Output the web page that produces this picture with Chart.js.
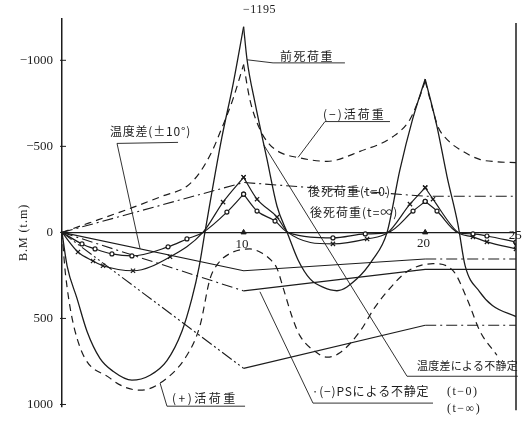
<!DOCTYPE html>
<html>
<head>
<meta charset="utf-8">
<script src="https://cdn.jsdelivr.net/npm/chart.js@4.4.0/dist/chart.umd.min.js"></script>
<style>
  html, body { margin: 0; padding: 0; background: #fff; }
  #wrap { width: 523px; height: 423px; }
</style>
</head>
<body>
<div id="wrap"><canvas id="bm"></canvas></div>
<script>
// --- values (x = section no., y = B.M in t.m, + is downward) ---
const spanCuts = [10, 20];

const preDeadX = [0, 0.28, 0.83, 1.38, 2.09, 2.81, 3.85, 4.85, 5.78, 6.6, 7.15, 7.55, 7.87, 8.8, 9.4, 10,
                  10.19, 10.63, 11.29, 11.84, 12.4, 13.0, 13.66, 14.4, 15.14, 16.24, 17.1, 17.9, 18.6, 19.3, 20,
                  20.65, 21.2, 21.8, 22.2, 23.0, 23.7, 25];
const preDeadY = [0, 194, 385, 576, 732, 807, 859, 830, 745, 576, 385, 200, 0, -550, -850, -1195,
                  -1003, -752, -424, -152, 0, 160, 270, 320, 339, 270, 160, 0, -360, -655, -891,
                  -615, -326, -48, 195, 345, 425, 489];

const negLiveX = [0, 1.5, 3.9, 5.5, 6.9, 7.6, 8.3, 8.7, 9.4, 10,
                  10.35, 10.9, 11.4, 12.0, 12.94, 14.59, 16.41, 18.23, 19.16, 19.6, 20,
                  20.4, 20.7, 21.3, 21.9, 23.0, 24.0, 25];
const negLiveY = [0, -55, -145, -210, -270, -350, -480, -580, -770, -975,
                  -770, -598, -515, -465, -436, -413, -471, -557, -656, -760, -880,
                  -720, -615, -530, -482, -424, -410, -405];

const posLiveX = [0, 0.2, 0.83, 2.64, 4.3, 5.4, 6.88, 7.6, 8.15, 8.6, 9.3, 10.35, 11.0, 11.5, 11.85, 12.2,
                  12.7, 13.1, 14.04, 14.6, 15.3, 16.41, 17.2, 17.9, 19.0, 20.43, 21.53, 22.3, 23.02, 23.95];
const posLiveY = [0, 250, 616, 847, 917, 876, 714, 541, 270, 180, 120, 96, 120, 160, 212, 330,
                  500, 600, 700, 725, 700, 575, 440, 344, 228, 182, 222, 385, 575, 714];

// 後死荷重, x marks
const postDeadAX = [0, 0.88, 1.71, 2.26, 3.91, 5.95, 7.76, 8.87, 10,
                    10.74, 11.84, 12.44, 14.92, 16.8, 17.95, 19.16, 20,
                    20.43, 21.8, 22.63, 23.4, 25];
const postDeadAY = [0, 114, 166, 194, 223, 142, 0, -176, -320,
                    -193, -89, 0, 67, 38, 0, -164, -260,
                    -193, 0, 26, 55, 96];
// 後死荷重, circle marks
const postDeadBX = [0, 1.1, 1.82, 2.75, 3.85, 5.84, 6.88, 7.76, 9.08, 10,
                    10.74, 11.73, 12.44, 14.92, 16.7, 17.95, 19.33, 20,
                    20.65, 21.8, 22.63, 23.4, 25];
const postDeadBY = [0, 67, 96, 125, 137, 84, 38, 0, -118, -222,
                    -124, -66, 0, 32, 9, 0, -124, -180,
                    -124, 0, 9, 21, 56];

// piecewise linear secondary moments (kinks at supports)
const supportX = [0, 10, 20, 25];
const tempNegY = [0, -290, -210, -210];
const tempPosY = [0, 223, 155, 155];
const psZeroY = [0, 340, 215, 215];
const psInfY = [0, 790, 540, 540];

const markX = [10, 20, 25];
const markY = [0, 0, 67];

const yTicks = [-1000, -500, 0, 500, 1000];

// --- styles ---
const INK = '#1c1c1c';
const DASH = [7, 5];
const DASHDOT = [11, 4, 2, 4];
const DASHDOT2 = [12, 3, 2, 3, 2, 3];
const SERIF = '"Liberation Serif", "DejaVu Serif", serif';
const JP = '"Noto Sans CJK JP", sans-serif';

function toPoints(xs, ys) {
    return xs.map((x, i) => ({ x: x, y: ys[i] }));
}

function splitSpans(xs, ys, cuts) {
    const pts = toPoints(xs, ys);
    const edges = [0, ...cuts, 25];
    const out = [];
    for (let k = 0; k < edges.length - 1; k++) {
        out.push(pts.filter(p => p.x >= edges[k] && p.x <= edges[k + 1]));
    }
    return out;
}

function spanIndex(x) {
    return x < 10 ? 0 : (x < 20 ? 1 : 2);
}

const datasets = [];

function addCurve(xs, ys, cuts, extra) {
    splitSpans(xs, ys, cuts).forEach(pts => {
        datasets.push(Object.assign({
            data: pts,
            borderColor: INK,
            borderWidth: 1.2,
            pointRadius: 0,
            fill: false,
            cubicInterpolationMode: 'monotone'
        }, extra));
    });
}

function addLine(ys, dashes) {
    datasets.push({
        data: toPoints(supportX, ys),
        borderColor: INK,
        borderWidth: 1.1,
        pointRadius: 0,
        fill: false,
        tension: 0,
        segment: { borderDash: ctx => dashes[spanIndex(ctx.p0.parsed.x)] }
    });
}

addCurve(preDeadX, preDeadY, spanCuts, { borderWidth: 1.3 });
addCurve(negLiveX, negLiveY, spanCuts, { borderDash: DASH });
addCurve(posLiveX, posLiveY, [], { borderDash: DASH });

const markerRadius = r => ctx => (ctx.raw && ctx.raw.y !== 0 ? r : 0);
addCurve(postDeadAX, postDeadAY, spanCuts, {
    pointStyle: 'crossRot', pointRadius: markerRadius(3), pointBorderColor: INK, pointBorderWidth: 1.2
});
addCurve(postDeadBX, postDeadBY, spanCuts, {
    pointStyle: 'circle', pointRadius: markerRadius(2), pointBackgroundColor: '#fff',
    pointBorderColor: INK, pointBorderWidth: 1.2
});

addLine(tempNegY, [DASHDOT, DASHDOT, DASHDOT]);
addLine(tempPosY, [[], [], DASHDOT]);
addLine(psZeroY, [DASHDOT, [], []]);
addLine(psInfY, [DASHDOT2, [], DASHDOT]);

datasets.push({
    data: toPoints(markX, markY),
    showLine: false,
    pointStyle: 'triangle',
    pointRadius: 3,
    pointRotation: [0, 0, 180],
    pointBackgroundColor: INK,
    pointBorderColor: INK
});

// --- annotations: text labels and leader lines, placed in data units ---
const notes = [
    { text: '前死荷重', x: 12.0, y: -1020, font: '12px ' + JP, spacing: 1.5 },
    { text: '(−)活荷重', x: 14.37, y: -685, font: '12px ' + JP, spacing: 2 },
    { text: '温度差(±10°)', x: 2.64, y: -586, font: '12px ' + JP, spacing: 0.8 },
    { text: '後死荷重(t=0)', x: 13.55, y: -239, font: '12px ' + JP, spacing: 1 },
    { text: '後死荷重(t=∞)', x: 13.66, y: -118, font: '12px ' + JP, spacing: 1 },
    { text: '温度差による不静定', x: 19.55, y: 778, font: '11px ' + JP, spacing: 0.2 },
    { text: '·(−)PSによる不静定', x: 13.75, y: 925, font: '12px ' + JP, spacing: 0.8 },
    { text: '(t−0)', x: 21.2, y: 925, font: '12px ' + SERIF, spacing: 1.5 },
    { text: '(t−∞)', x: 21.2, y: 1025, font: '12px ' + SERIF, spacing: 1.5 },
    { text: '(+)活荷重', x: 6.06, y: 964, font: '12px ' + JP, spacing: 2.5 },
    { text: '−1195', x: 9.97, y: -1292, font: '12px ' + SERIF, spacing: 0.5 },
    { text: '10', x: 9.55, y: 70, font: '13px ' + SERIF, spacing: 0 },
    { text: '20', x: 19.55, y: 64, font: '13px ' + SERIF, spacing: 0 },
    { text: '25', x: 24.6, y: 18, font: '13px ' + SERIF, spacing: 0 }
];

const leaders = [
    [[10.19, -1003], [11.62, -985], [15.58, -985]],
    [[13.0, -436], [14.48, -644], [18.06, -644]],
    [[4.3, 96], [3.03, -517], [6.39, -523]],
    [[11.1, -510], [19.0, 836], [25.1, 836]],
    [[10.9, 345], [13.82, 992], [20.43, 992]],
    [[5.4, 876], [5.78, 1010], [10.08, 1010]]
];

const overlay = {
    id: 'overlay',
    afterDraw(chart) {
        const { ctx, chartArea: a, scales: { x, y } } = chart;
        ctx.save();
        ctx.strokeStyle = INK;
        ctx.fillStyle = INK;

        // right frame line at section 25
        ctx.lineWidth = 1.5;
        ctx.beginPath();
        ctx.moveTo(x.getPixelForValue(25), a.top + 4);
        ctx.lineTo(x.getPixelForValue(25), a.bottom + 4);
        ctx.stroke();

        // small inward tick marks on the y axis
        ctx.lineWidth = 1;
        yTicks.forEach(v => {
            const py = y.getPixelForValue(v);
            ctx.beginPath();
            ctx.moveTo(a.left - 2, py);
            ctx.lineTo(a.left + 4, py);
            ctx.stroke();
        });

        // leader lines
        ctx.lineWidth = 0.9;
        leaders.forEach(line => {
            ctx.beginPath();
            line.forEach(([vx, vy], i) => {
                const px = x.getPixelForValue(vx), py = y.getPixelForValue(vy);
                if (i === 0) ctx.moveTo(px, py); else ctx.lineTo(px, py);
            });
            ctx.stroke();
        });

        // labels
        ctx.textBaseline = 'middle';
        ctx.textAlign = 'left';
        notes.forEach(n => {
            ctx.font = n.font;
            ctx.letterSpacing = n.spacing + 'px';
            ctx.fillText(n.text, x.getPixelForValue(n.x), y.getPixelForValue(n.y));
        });

        // y axis title
        ctx.font = '12px ' + SERIF;
        ctx.letterSpacing = '1px';
        ctx.textAlign = 'center';
        ctx.translate(24, y.getPixelForValue(0));
        ctx.rotate(-Math.PI / 2);
        ctx.fillText('B.M (t.m)', 0, 0);
        ctx.restore();
    }
};

new Chart(document.getElementById('bm'), {
    type: 'line',
    data: { datasets: datasets },
    options: {
        responsive: true,
        maintainAspectRatio: false,
        animation: false,
        layout: { padding: { top: 19, right: 7, bottom: 15, left: 0 } },
        plugins: {
            legend: { display: false },
            tooltip: { enabled: false }
        },
        scales: {
            x: {
                type: 'linear',
                min: 0,
                max: 25,
                display: false
            },
            y: {
                type: 'linear',
                reverse: true,
                min: -1240,
                max: 1010,
                afterBuildTicks: scale => { scale.ticks = yTicks.map(v => ({ value: v })); },
                afterFit: scale => { scale.width = 62; },
                border: { display: true, color: INK, width: 1.5 },
                grid: {
                    drawTicks: false,
                    color: ctx => (ctx.tick && ctx.tick.value === 0 ? INK : 'rgba(0,0,0,0)'),
                    lineWidth: 1.2
                },
                ticks: {
                    padding: 9,
                    color: INK,
                    font: { family: SERIF, size: 13 },
                    callback: v => (v < 0 ? '−' + Math.abs(v) : String(v))
                }
            }
        }
    },
    plugins: [overlay]
});
</script>
</body>
</html>
